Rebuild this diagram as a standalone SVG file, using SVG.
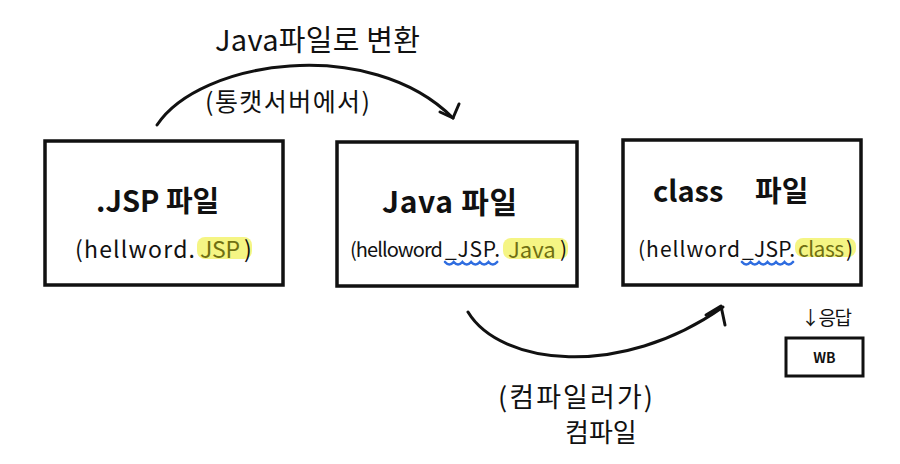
<svg xmlns="http://www.w3.org/2000/svg" width="900" height="464" viewBox="0 0 900 464">
<defs>
<style>
.t{font-family:"Noto Sans CJK KR","Noto Sans",sans-serif;fill:#111;dominant-baseline:central}
.box{fill:#fff;stroke:#111;stroke-width:3.5}
.c{fill:none;stroke:#111;stroke-width:3;stroke-linecap:round;stroke-linejoin:round}
.hl{fill:#f3f36e;opacity:0.85}
.hlt{fill:#6f6f12}
.w{fill:none;stroke:#2f6de0;stroke-width:2.6;stroke-linecap:round}
</style>
</defs>
<rect width="900" height="464" fill="#fff"/>
<g id="connectors">
<path class="c" d="M157,125 C200,60 370,35 453,118"/>
<polyline class="c" points="440,112 453,118 459,104"/>
<path class="c" d="M468,312 C500,365 620,380 723,307"/>
<polyline class="c" points="706,315 721,306 725,325"/>
<text class="t" x="215" y="38" font-size="29" textLength="205">Java파일로 변환</text>
<text class="t" x="205" y="100" font-size="25" textLength="165">(통캣서버에서)</text>
<text class="t" x="498" y="395" font-size="27" textLength="155">(컴파일러가)</text>
<text class="t" x="565" y="430" font-size="26">컴파일</text>
</g>
<g id="jsp">
<rect class="box" x="45" y="141" width="238" height="144"/>
<text class="t" x="96" y="199" font-size="29" font-weight="bold">.JSP 파일</text>
<rect class="hl" x="197" y="237" width="55" height="22" rx="8"/>
<text class="t" x="75" y="248" font-size="23" textLength="120">(hellword.</text>
<text class="t hlt" x="200" y="248" font-size="23" textLength="40">JSP</text>
<text class="t" x="244" y="248" font-size="23">)</text>
</g>
<g id="java">
<rect class="box" x="337" y="142" width="240" height="144"/>
<text class="t" x="382" y="200" font-size="30" font-weight="bold" textLength="135">Java 파일</text>
<rect class="hl" x="503" y="238" width="65" height="21" rx="8"/>
<text class="t" x="350" y="248" font-size="20" textLength="93">(helloword</text>
<text class="t" x="445" y="248" font-size="21" textLength="55">_JSP.</text>
<text class="t hlt" x="508" y="248" font-size="22">Java</text>
<text class="t" x="560" y="248" font-size="21">)</text>
<path class="w" d="M445,262 q4.3,5 8.7,0 q4.3,5 8.7,0 q4.3,5 8.7,0 q4.3,5 8.7,0 q4.3,5 8.7,0 q4.3,5 8.7,0"/>
</g>
<g id="class">
<rect class="box" x="623" y="140" width="238" height="145"/>
<text class="t" x="653" y="189" font-size="29" font-weight="bold">class</text>
<text class="t" x="755" y="189" font-size="29" font-weight="bold">파일</text>
<rect class="hl" x="795" y="238" width="61" height="19" rx="8"/>
<text class="t" x="638" y="248" font-size="21" textLength="102">(hellword</text>
<text class="t" x="742" y="248" font-size="21" textLength="53">_JSP.</text>
<text class="t hlt" x="798" y="248" font-size="21" textLength="46">class</text>
<text class="t" x="846" y="248" font-size="21">)</text>
<path class="w" d="M742,262 q4.25,5 8.5,0 q4.25,5 8.5,0 q4.25,5 8.5,0 q4.25,5 8.5,0 q4.25,5 8.5,0 q4.25,5 8.5,0"/>
</g>
<g id="wb">
<text class="t" x="801" y="316" font-size="19" textLength="51">↓응답</text>
<rect x="786" y="338" width="77" height="38" fill="#fff" stroke="#111" stroke-width="3"/>
<text class="t" x="824.5" y="357" font-size="14" font-weight="bold" text-anchor="middle">WB</text>
</g>
</svg>
